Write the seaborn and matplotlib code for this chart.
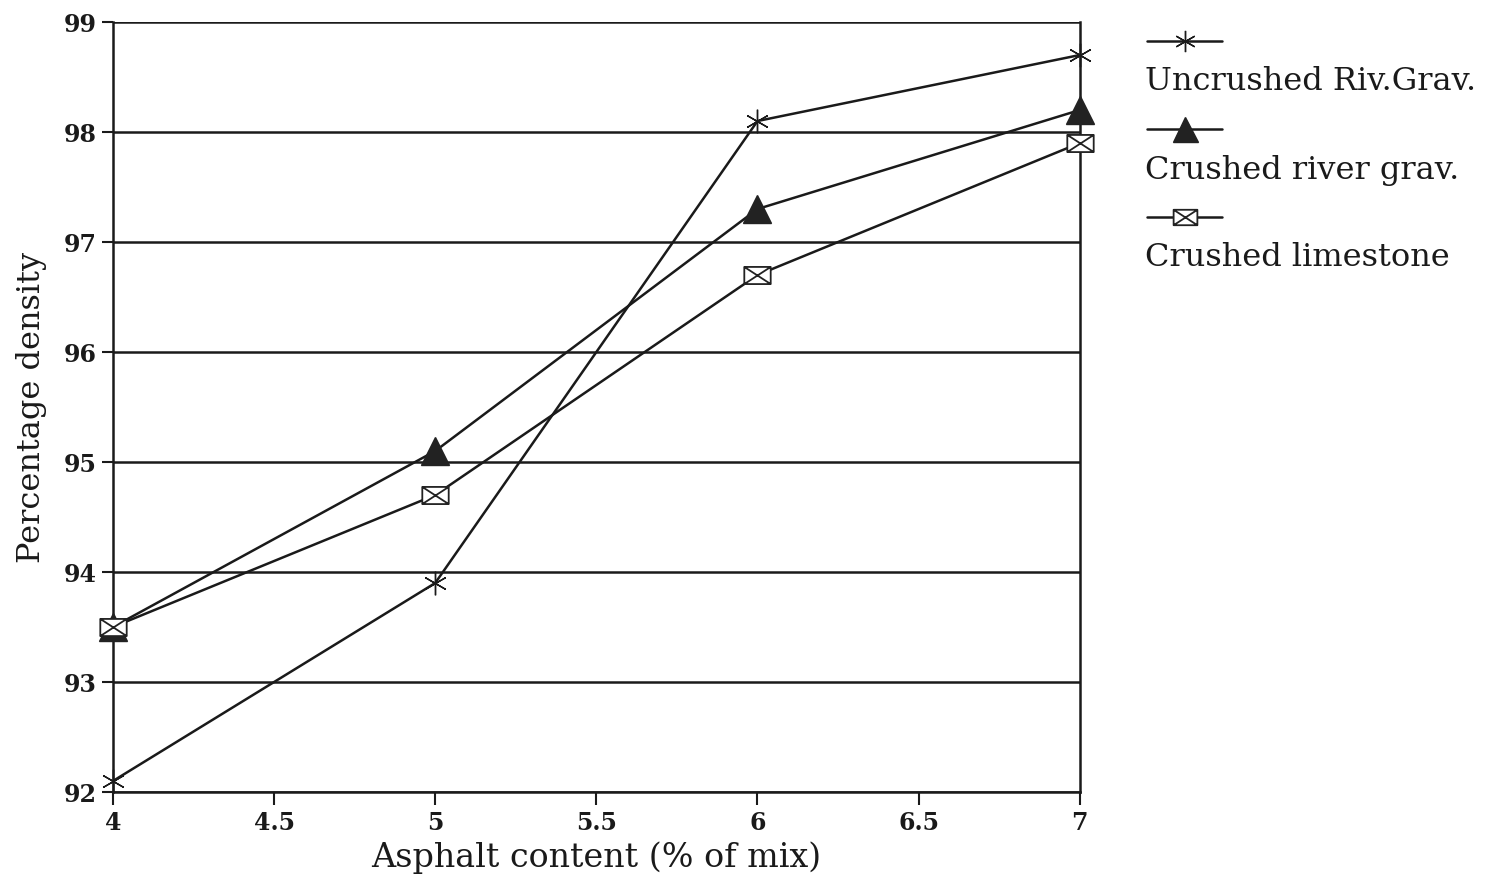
import numpy as np
import pandas as pd
import matplotlib
matplotlib.use("Agg")
import matplotlib.pyplot as plt
from matplotlib.path import Path
from matplotlib.lines import Line2D
import seaborn as sns

# Asphalt content (% of mix) and percentage density per aggregate type
asphalt = [4, 5, 6, 7]
uncrushed_riv = [92.1, 93.9, 98.1, 98.7]
crushed_riv = [93.5, 95.1, 97.3, 98.2]
crushed_lime = [93.5, 94.7, 96.7, 97.9]
series_names = ["Uncrushed Riv.Grav.", "Crushed river grav.", "Crushed limestone"]
x_ticks = [4, 4.5, 5, 5.5, 6, 6.5, 7]
x_tick_labels = ["4", "4.5", "5", "5.5", "6", "6.5", "7"]
y_ticks = [92, 93, 94, 95, 96, 97, 98, 99]

sns.set_theme(style="white")
plt.rcParams["font.family"] = ["DejaVu Serif"]

# Box with a cross inside
boxx = Path(
    [(-1, -0.65), (1, -0.65), (1, 0.65), (-1, 0.65), (-1, -0.65),
     (-1, -0.65), (1, 0.65), (-1, 0.65), (1, -0.65)],
    [Path.MOVETO, Path.LINETO, Path.LINETO, Path.LINETO, Path.CLOSEPOLY,
     Path.MOVETO, Path.LINETO, Path.MOVETO, Path.LINETO],
)

styles = [
    dict(marker=(6, 2, 0), markersize=17, markeredgewidth=1.0,
         markerfacecolor="black", markeredgecolor="#1a1a1a"),
    dict(marker="^", markersize=20, markeredgewidth=1.0,
         markerfacecolor="#222222", markeredgecolor="#222222"),
    dict(marker=boxx, markersize=19, markeredgewidth=1.3,
         markerfacecolor="white", markeredgecolor="#222222"),
]

df = pd.DataFrame({
    "asphalt": asphalt * 3,
    "density": uncrushed_riv + crushed_riv + crushed_lime,
    "series": sum([[n] * len(asphalt) for n in series_names], []),
})

fig = plt.figure(figsize=(14.92, 8.81), dpi=100)
ax = fig.add_axes([0.0757, 0.101, 0.648, 0.874])

for name, st in zip(series_names, styles):
    sub = df[df["series"] == name]
    sns.lineplot(data=sub, x="asphalt", y="density", ax=ax, color="#1a1a1a",
                 linewidth=1.8, legend=False, zorder=3, clip_on=False, **st)

ax.set_xlim(4, 7)
ax.set_ylim(92, 99)
ax.set_xticks(x_ticks)
ax.set_xticklabels(x_tick_labels)
ax.set_yticks(y_ticks)
ax.yaxis.grid(True, color="#1a1a1a", linewidth=1.8)
ax.xaxis.grid(False)
for side in ["left", "right", "bottom"]:
    ax.spines[side].set_visible(True)
    ax.spines[side].set_color("#1a1a1a")
    ax.spines[side].set_linewidth(1.8)
ax.spines["top"].set_visible(False)
ax.tick_params(axis="x", direction="out", length=9, width=1.5, color="#1a1a1a",
               bottom=True, pad=5)
ax.tick_params(axis="y", direction="out", length=8, width=1.5, color="#1a1a1a",
               left=True, pad=4)
for lab in ax.get_xticklabels() + ax.get_yticklabels():
    lab.set_fontfamily("DejaVu Serif")
    lab.set_fontweight("bold")
    lab.set_fontsize(17)
    lab.set_color("#1a1a1a")

ax.set_xlabel("Asphalt content (% of mix)", fontsize=24, color="#1a1a1a", labelpad=4)
ax.set_ylabel("Percentage density", fontsize=23, color="#1a1a1a")
ax.yaxis.set_label_coords(-0.068, 0.5)

# Legend: sample line above each label
W, H = 1492, 881
for i, (name, st) in enumerate(zip(series_names, styles)):
    yh = 1 - (41 + 88 * i) / H
    yt = 1 - (82 + 88 * i) / H
    fig.add_artist(Line2D([1147 / W, 1222 / W], [yh, yh], color="#1a1a1a",
                          linewidth=1.8, transform=fig.transFigure))
    st2 = dict(st)
    st2["markersize"] = st["markersize"] * 0.9
    fig.add_artist(Line2D([1185 / W], [yh], linestyle="none",
                          transform=fig.transFigure, **st2))
    fig.text(1145 / W, yt, name, fontsize=23, color="#1a1a1a",
             ha="left", va="center")

fig.savefig("out.png", dpi=100)
